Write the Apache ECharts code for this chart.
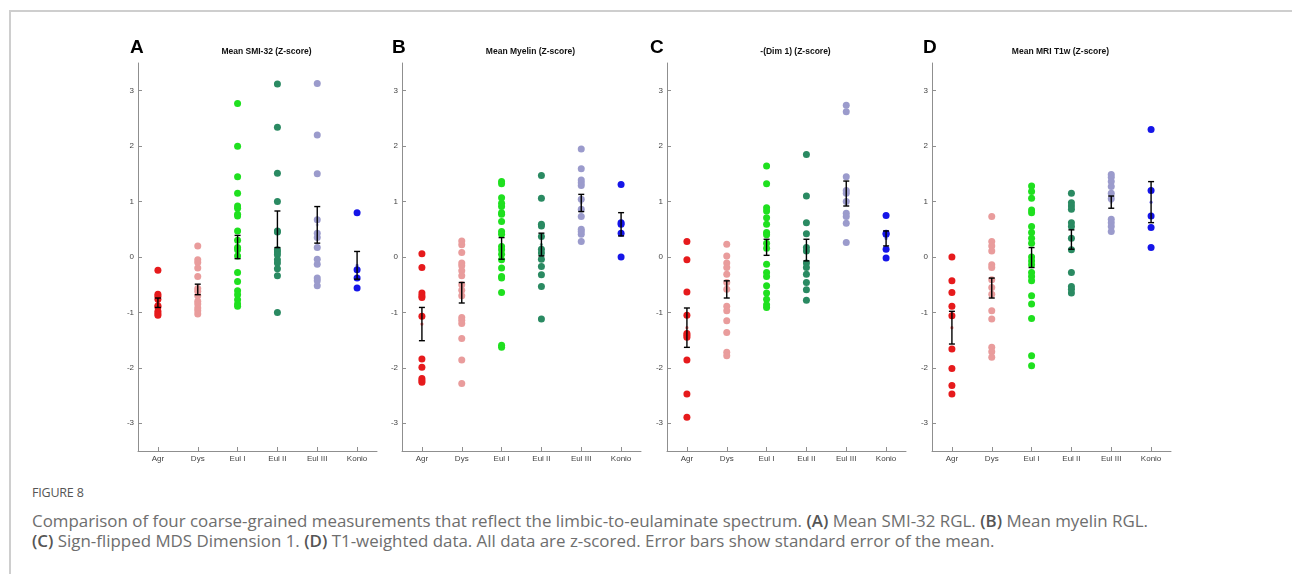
<!DOCTYPE html>
<html>
<head>
<meta charset="utf-8">
<script src="https://cdn.jsdelivr.net/npm/echarts@6/dist/echarts.min.js"></script>
<style>
  body { margin: 0; background: #fff; }
  #page { position: relative; width: 1292px; height: 574px; overflow: hidden; font-family: 'Open Sans', sans-serif; }
  #frame { position: absolute; left: 9px; top: 10px; width: 1300px; height: 600px; border-top: 2px solid #cecece; border-left: 2px solid #cecece; }
  #chart { position: absolute; left: 0; top: 0; width: 1292px; height: 472px; }
  #figno { position: absolute; left: 32px; top: 484px; font-size: 12.5px; color: #555; letter-spacing: -0.2px; }
  #caption { position: absolute; left: 32px; top: 511px; width: 1250px; font-size: 16.9px; line-height: 20px; color: #6e6e6e; white-space: nowrap; }
  #caption b { color: #555; font-weight: 600; }
</style>
</head>
<body>
<div id="page">
  <div id="frame"></div>
  <div id="chart"></div>
  <div id="figno">FIGURE 8</div>
  <div id="caption">Comparison of four coarse-grained measurements that reflect the limbic-to-eulaminate spectrum. <b>(A)</b> Mean SMI-32 RGL. <b>(B)</b> Mean myelin RGL.<br><b>(C)</b> Sign-flipped MDS Dimension 1. <b>(D)</b> T1-weighted data. All data are z-scored. Error bars show standard error of the mean.</div>
</div>
<script>
// categories and colours
const categories = ['Agr', 'Dys', 'Eul I', 'Eul II', 'Eul III', 'Konio'];
const colors = ['#e61a1c', '#e99c9c', '#1fe01f', '#2a8a62', '#9b9bcc', '#1515e8'];
const yTicks = [-3, -2, -1, 0, 1, 2, 3];

const panelTitles = ['Mean SMI-32 (Z-score)', 'Mean Myelin (Z-score)', '-(Dim 1) (Z-score)', 'Mean MRI T1w (Z-score)'];
const panelLetters = ['A', 'B', 'C', 'D'];

// A: Mean SMI-32
const smi32 = [
  [-0.24, -0.67, -0.71, -0.76, -0.88, -0.9, -0.98, -1.02, -1.05],
  [0.2, -0.05, -0.1, -0.2, -0.35, -0.57, -0.62, -0.7, -0.8, -0.85, -0.92, -0.97, -1.03],
  [2.77, 2.0, 1.45, 1.15, 0.92, 0.88, 0.77, 0.74, 0.47, 0.3, 0.17, 0.13, 0.02, -0.28, -0.44, -0.61, -0.68, -0.77, -0.85, -0.89],
  [3.12, 2.34, 1.51, 1.0, 0.47, 0.45, 0.13, 0.09, 0.04, -0.05, -0.11, -0.21, -0.34, -1.0],
  [3.13, 2.2, 1.5, 0.67, 0.43, 0.35, 0.17, -0.04, -0.13, -0.38, -0.43, -0.52],
  [0.8, -0.23, -0.38, -0.56]
];
const smi32Lo = [-0.91, -0.68, -0.03, 0.17, 0.25, -0.40];
const smi32Hi = [-0.74, -0.49, 0.39, 0.83, 0.91, 0.10];

// B: Mean myelin
const myelin = [
  [0.06, -0.19, -0.65, -0.7, -0.73, -1.07, -1.84, -1.99, -2.19, -2.23, -2.26],
  [0.29, 0.22, 0.08, -0.11, -0.16, -0.25, -0.34, -0.5, -0.6, -0.7, -1.09, -1.14, -1.2, -1.47, -1.86, -2.28],
  [1.36, 1.32, 1.07, 0.97, 0.91, 0.8, 0.77, 0.64, 0.46, 0.41, 0.19, 0.13, 0.05, -0.05, -0.2, -0.35, -0.38, -0.64, -1.59, -1.63],
  [1.47, 1.06, 0.59, 0.56, 0.37, 0.14, 0.07, -0.04, -0.17, -0.32, -0.53, -1.12],
  [1.95, 1.59, 1.39, 1.34, 1.29, 1.04, 0.86, 0.73, 0.5, 0.46, 0.41, 0.28],
  [1.31, 0.62, 0.59, 0.43, 0.0]
];
const myelinLo = [-1.51, -0.83, -0.04, 0.02, 0.82, 0.38];
const myelinHi = [-0.91, -0.46, 0.35, 0.43, 1.13, 0.80];

// C: -(Dim 1)
const dim1 = [
  [0.28, -0.05, -0.63, -1.05, -1.38, -1.41, -1.45, -1.86, -2.47, -2.89],
  [0.23, 0.02, -0.11, -0.19, -0.31, -0.46, -0.58, -0.89, -0.97, -1.15, -1.36, -1.72, -1.78],
  [1.64, 1.32, 0.89, 0.83, 0.71, 0.59, 0.44, 0.4, 0.25, 0.16, -0.13, -0.28, -0.35, -0.52, -0.65, -0.76, -0.86, -0.91],
  [1.85, 1.1, 0.62, 0.42, 0.17, 0.11, -0.11, -0.19, -0.31, -0.46, -0.59, -0.78],
  [2.74, 2.62, 1.45, 1.2, 1.15, 1.0, 0.79, 0.73, 0.61, 0.26],
  [0.75, 0.43, 0.41, 0.14, -0.02]
];
const dim1Lo = [-1.63, -0.74, 0.03, -0.07, 0.92, 0.20];
const dim1Hi = [-0.92, -0.43, 0.32, 0.32, 1.37, 0.47];

// D: Mean MRI T1w
const t1w = [
  [0.0, -0.43, -0.64, -0.89, -1.06, -1.66, -2.01, -2.32, -2.47],
  [0.73, 0.28, 0.2, 0.11, -0.14, -0.19, -0.41, -0.55, -0.67, -0.97, -1.12, -1.63, -1.71, -1.81],
  [1.28, 1.18, 1.06, 0.85, 0.8, 0.55, 0.44, 0.34, 0.25, 0.0, -0.07, -0.14, -0.28, -0.35, -0.43, -0.7, -0.85, -1.11, -1.78, -1.96],
  [1.15, 0.98, 0.92, 0.86, 0.62, 0.55, 0.34, 0.13, -0.28, -0.53, -0.58, -0.65],
  [1.49, 1.44, 1.36, 1.27, 1.15, 1.05, 0.68, 0.62, 0.55, 0.46],
  [2.3, 1.2, 0.74, 0.53, 0.17]
];
const t1wLo = [-1.57, -0.74, -0.19, 0.14, 0.88, 0.62];
const t1wHi = [-0.98, -0.38, 0.17, 0.49, 1.10, 1.36];

const panels = [
  { values: smi32, lo: smi32Lo, hi: smi32Hi },
  { values: myelin, lo: myelinLo, hi: myelinHi },
  { values: dim1, lo: dim1Lo, hi: dim1Hi },
  { values: t1w, lo: t1wLo, hi: t1wHi }
];

// layout
const gridLefts = [138, 402, 667, 932];
const letterLefts = [130, 392, 650, 923];
const gridWidth = 239;
const gridTop = 63;
const gridHeight = 388;
const axisColor = '#8f8f8f';
const labelColor = '#444';

const chart = echarts.init(document.getElementById('chart'));

const grids = [];
const xAxes = [];
const yAxes = [];
const titles = [];
const series = [];

panels.forEach((panel, i) => {
  grids.push({ left: gridLefts[i], top: gridTop, width: gridWidth, height: gridHeight });
  xAxes.push({
    gridIndex: i,
    type: 'category',
    data: categories,
    boundaryGap: true,
    axisLine: { onZero: false, lineStyle: { color: axisColor, width: 1 } },
    axisTick: { show: true, alignWithLabel: true, inside: true, length: 4, lineStyle: { color: axisColor } },
    axisLabel: { color: labelColor, fontSize: 8, fontFamily: 'Liberation Sans', margin: 4 },
    splitLine: { show: false }
  });
  yAxes.push({
    gridIndex: i,
    type: 'value',
    min: -3.5,
    max: 3.5,
    axisLine: { show: true, lineStyle: { color: axisColor, width: 1 } },
    axisTick: { show: true, inside: true, length: 4, customValues: yTicks, lineStyle: { color: axisColor } },
    axisLabel: { color: labelColor, fontSize: 8, fontFamily: 'Liberation Sans', margin: 4, customValues: yTicks },
    splitLine: { show: false }
  });
  titles.push({
    text: panelTitles[i],
    left: gridLefts[i] + gridWidth / 2 + 4,
    top: 42,
    textAlign: 'center',
    textStyle: { fontSize: 8.5, fontWeight: 'bold', color: '#111', fontFamily: 'Liberation Sans' }
  });
  titles.push({
    text: panelLetters[i],
    left: letterLefts[i],
    top: 38,
    textAlign: 'left',
    padding: 0,
    textStyle: { fontSize: 19, fontWeight: 'bold', color: '#000', fontFamily: 'Liberation Sans' }
  });

  const points = [];
  panel.values.forEach((vals, c) => {
    vals.forEach((v) => points.push([c, v]));
  });
  series.push({
    type: 'scatter',
    xAxisIndex: i,
    yAxisIndex: i,
    symbolSize: 7,
    data: points,
    itemStyle: { color: (p) => colors[p.data[0]], opacity: 1 },
    z: 2
  });

  const bars = categories.map((c, k) => [k, panel.lo[k], panel.hi[k]]);
  series.push({
    type: 'custom',
    xAxisIndex: i,
    yAxisIndex: i,
    data: bars,
    z: 3,
    encode: { x: 0, y: [1, 2] },
    renderItem(params, api) {
      const k = api.value(0);
      const top = api.coord([k, api.value(2)]);
      const bot = api.coord([k, api.value(1)]);
      const mid = api.coord([k, (api.value(1) + api.value(2)) / 2]);
      const cap = 3;
      const style = { stroke: '#000', lineWidth: 1.4 };
      return {
        type: 'group',
        children: [
          { type: 'circle', shape: { cx: mid[0], cy: mid[1], r: 1.6 }, style: { fill: colors[k], opacity: 0.6 } },
          { type: 'line', shape: { x1: top[0], y1: top[1], x2: bot[0], y2: bot[1] }, style },
          { type: 'line', shape: { x1: top[0] - cap, y1: top[1], x2: top[0] + cap, y2: top[1] }, style },
          { type: 'line', shape: { x1: bot[0] - cap, y1: bot[1], x2: bot[0] + cap, y2: bot[1] }, style }
        ]
      };
    }
  });
});

chart.setOption({
  animation: false,
  title: titles,
  grid: grids,
  xAxis: xAxes,
  yAxis: yAxes,
  series
});
</script>
</body>
</html>
